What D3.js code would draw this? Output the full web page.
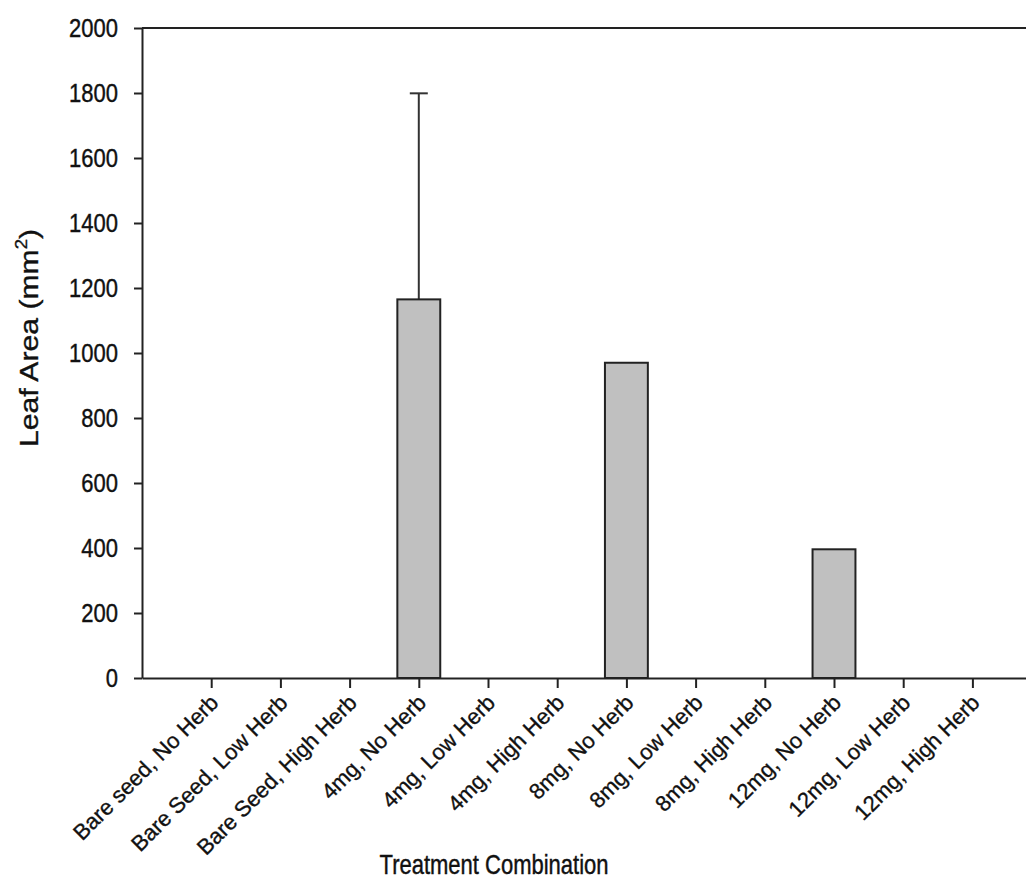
<!DOCTYPE html>
<html lang="en">
<head>
    <meta charset="utf-8">
    <title>Leaf Area</title>
    <script src="https://d3js.org/d3.v7.min.js" charset="utf-8"></script>
    <style type="text/css">
        body {
            margin: 0;
            background: #fff;
        }
        text {
            font-family: Arial, "Liberation Sans", sans-serif;
            fill: #111;
            stroke: #111;
            stroke-width: 0.35px;
        }
    </style>
</head>
<body>
    <script type="text/javascript">
        var categories = ["Bare seed, No Herb", "Bare Seed, Low Herb", "Bare Seed, High Herb",
                          "4mg, No Herb", "4mg, Low Herb", "4mg, High Herb",
                          "8mg, No Herb", "8mg, Low Herb", "8mg, High Herb",
                          "12mg, No Herb", "12mg, Low Herb", "12mg, High Herb"];
        var leafArea = [0, 0, 0, 1165, 0, 0, 970, 0, 0, 396, 0, 0];
        var errorUp = [0, 0, 0, 634, 0, 0, 0, 0, 0, 0, 0, 0];
        var yTicks = [0, 200, 400, 600, 800, 1000, 1200, 1400, 1600, 1800, 2000];

        var width = 1026;
        var height = 886;
        var plotLeft = 142, plotTop = 28, plotBottom = 678;

        var svg = d3.select("body")
                    .append("svg")
                    .attr("width", width)
                    .attr("height", height);

        // positions 1..12, axis runs from 0 to 13 (right end falls off the page)
        var x = d3.scaleLinear().domain([0, 13]).range([plotLeft, plotLeft + 13 * 69.2]);
        var y = d3.scaleLinear().domain([0, 2000]).range([plotBottom, plotTop]);
        var barW = 0.62 * (x(1) - x(0));

        var data = categories.map(function(c, i) {
            return {name: c, pos: i + 1, value: leafArea[i], err: errorUp[i]};
        });

        // error bars (upper only)
        var eb = svg.append("g").attr("stroke", "#333").attr("stroke-width", 2);
        data.filter(function(d) { return d.err > 0; }).forEach(function(d) {
            eb.append("line")
              .attr("x1", x(d.pos)).attr("x2", x(d.pos))
              .attr("y1", y(d.value)).attr("y2", y(d.value + d.err));
            eb.append("line")
              .attr("x1", x(d.pos) - 9).attr("x2", x(d.pos) + 9)
              .attr("y1", y(d.value + d.err)).attr("y2", y(d.value + d.err));
        });

        svg.selectAll("rect.bar")
            .data(data.filter(function(d) { return d.value > 0; }))
            .enter()
            .append("rect")
            .attr("class", "bar")
            .attr("x", function(d) { return x(d.pos) - barW / 2; })
            .attr("y", function(d) { return y(d.value); })
            .attr("width", barW)
            .attr("height", function(d) { return y(0) - y(d.value); })
            .attr("fill", "#c0c0c0")
            .attr("stroke", "#222")
            .attr("stroke-width", 2);

        // top frame line
        svg.append("line")
            .attr("x1", plotLeft).attr("x2", width)
            .attr("y1", plotTop).attr("y2", plotTop)
            .attr("stroke", "#222").attr("stroke-width", 2);

        var yAxis = svg.append("g")
            .attr("transform", "translate(" + plotLeft + ",0)")
            .call(d3.axisLeft(y).tickValues(yTicks).tickSize(8).tickSizeOuter(0)
                  .tickPadding(16).tickFormat(d3.format("d")));

        var xAxis = svg.append("g")
            .attr("transform", "translate(0," + plotBottom + ")")
            .call(d3.axisBottom(x).tickValues(d3.range(1, 13)).tickSize(10).tickSizeOuter(0)
                  .tickFormat(function(d) { return categories[d - 1]; }));

        [yAxis, xAxis].forEach(function(g) {
            g.select(".domain").attr("stroke", "#222").attr("stroke-width", 2);
            g.selectAll(".tick line").attr("stroke", "#222").attr("stroke-width", 2);
            g.selectAll("text").attr("font-family", "Arial, 'Liberation Sans', sans-serif")
                .attr("font-size", "22px").attr("fill", "#111");
        });

        yAxis.selectAll(".tick text")
            .attr("transform", "scale(1,1.18)");

        xAxis.selectAll(".tick text")
            .attr("text-anchor", "end")
            .attr("dy", null)
            .attr("x", null)
            .attr("y", null)
            .attr("transform", "translate(8,26) rotate(-45)");

        svg.append("text")
            .attr("transform", "translate(494,874) scale(1,1.25)")
            .attr("text-anchor", "middle")
            .attr("font-size", "22px")
            .text("Treatment Combination");

        var yt = svg.append("text")
            .attr("transform", "translate(38,338) rotate(-90) scale(1.16,1)")
            .attr("text-anchor", "middle")
            .attr("font-size", "26px");
        yt.append("tspan").text("Leaf Area (mm");
        yt.append("tspan").attr("font-size", "16px").attr("dy", "-11").text("2");
        yt.append("tspan").attr("dy", "11").text(")");
    </script>
</body>
</html>
